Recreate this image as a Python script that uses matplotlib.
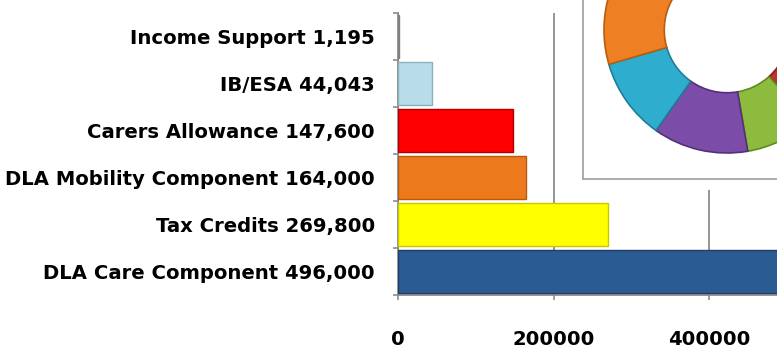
import numpy as np
import matplotlib.pyplot as plt
from matplotlib.patches import Rectangle

# -------------------------------
# data (bottom to top)
categories = ['DLA Care Component 496,000', 'Tax Credits 269,800',
              'DLA Mobility Component 164,000', 'Carers Allowance 147,600',
              'IB/ESA 44,043', 'Income Support 1,195']
values = [496000, 269800, 164000, 147600, 44043, 1195]
bar_colors = ['#2B5B93', '#FFFF00', '#EC7A1C', '#FF0000', '#B8DDE8', '#A6A6A6']
bar_edges = ['#1E3F66', '#C8C800', '#B85A10', '#B00000', '#8AB2BE', '#808080']
xticks = [0, 200000, 400000]

# inset donut shares (clockwise from 12 o'clock)
donut_share = [24.0, 14.3, 9.0, 12.5, 10.7, 29.5]
donut_colors = ['#4F81BD', '#C0302D', '#8DBB3E', '#7B4CA8', '#2FADCE', '#EE7F22']
donut_edges = ['#35608F', '#8A2020', '#5E8A22', '#55307A', '#1F7E98', '#B85C12']

W, H = 777, 352
plt.rcParams['font.family'] = ['DejaVu Sans']
fig = plt.figure(figsize=(W / 100, H / 100), dpi=100)

def px(x0, y_top, w, h):
    return [x0 / W, 1 - (y_top + h) / H, w / W, h / H]

# -------------------------------
# main bar chart
unit = 155.5 / 200000
ax = fig.add_axes(px(398, 13, 600000 * unit, 282))
pos = np.arange(len(values)) + 0.5
ax.barh(pos, values, height=0.9, color=bar_colors, edgecolor=bar_edges,
        linewidth=1, zorder=3)
ax.set_xlim(0, 600000)
ax.set_ylim(0, len(values))

ax.set_yticks(pos)
ax.set_yticklabels(categories, fontsize=14.1, fontweight='bold')
ax.set_yticks(np.arange(len(values) + 1), minor=True)
ax.tick_params(axis='y', which='major', length=0, pad=16.5)
ax.tick_params(axis='y', which='minor', length=3.6, color='#8C8C8C', width=1.2)

ax.set_xticks(xticks)
ax.set_xticklabels([str(v) for v in xticks], fontsize=14.1, fontweight='bold')
ax.tick_params(axis='x', length=3.6, color='#8C8C8C', width=1.2, pad=21.5)

ax.grid(axis='x', color='#8C8C8C', linewidth=1.3, zorder=0)
for s in ['top', 'right']:
    ax.spines[s].set_visible(False)
for s in ['left', 'bottom']:
    ax.spines[s].set_color('#8C8C8C')
    ax.spines[s].set_linewidth(1.3)

# white margin under the inset
fig.patches.append(Rectangle((583 / W, 1 - 190 / H), 1, 1, transform=fig.transFigure,
                             facecolor='white', edgecolor='none', zorder=1))

# -------------------------------
# inset donut
R = 123.0
cx, cy = 727, 30
ax2 = fig.add_axes(px(583, -200, 400, 379), zorder=2)
ax2.pie(donut_share, colors=donut_colors, startangle=90, counterclock=False,
        radius=1, wedgeprops=dict(width=0.49, linewidth=1.2))
for w, ec in zip(ax2.patches, donut_edges):
    w.set_edgecolor(ec)
ax2.set_aspect('auto')
ax2.set_xlim((583 - cx) / R, (583 + 400 - cx) / R)
ax2.set_ylim(-(179 - cy) / R, (cy + 200) / R)
ax2.set_xticks([])
ax2.set_yticks([])
ax2.set_facecolor('white')
ax2.set_frame_on(True)
for s in ax2.spines.values():
    s.set_color('#A6A6A6')
    s.set_linewidth(1.3)
    s.set_visible(True)

fig.savefig('out.png', dpi=100)
